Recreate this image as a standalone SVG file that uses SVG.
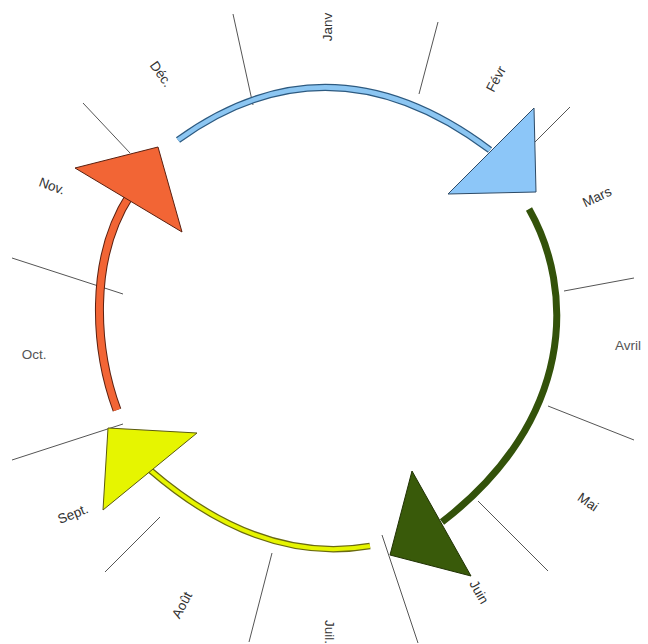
<svg xmlns="http://www.w3.org/2000/svg" width="648" height="644" viewBox="0 0 648 644">
<style>
.lbl{font-family:"Liberation Sans",Arial,sans-serif;font-size:13.5px;fill:#333;text-anchor:middle;dominant-baseline:central}
.lt{fill:#555}
.spoke{stroke:#555;stroke-width:1;fill:none}
.arc{fill:none;stroke-linecap:butt}
</style>
<rect width="648" height="644" fill="#fff"/>
<g id="spokes">
<line class="spoke" x1="233" y1="14" x2="253" y2="105"/>
<line class="spoke" x1="438" y1="22" x2="419" y2="94"/>
<line class="spoke" x1="570" y1="107" x2="535" y2="142"/>
<line class="spoke" x1="564" y1="291" x2="634" y2="278"/>
<line class="spoke" x1="548" y1="406" x2="634" y2="440"/>
<line class="spoke" x1="478" y1="501" x2="548" y2="571"/>
<line class="spoke" x1="382" y1="535" x2="418" y2="643"/>
<line class="spoke" x1="272" y1="553" x2="249" y2="642"/>
<line class="spoke" x1="160" y1="517" x2="105" y2="572"/>
<line class="spoke" x1="123" y1="424" x2="12" y2="460"/>
<line class="spoke" x1="12" y1="258" x2="123" y2="294"/>
<line class="spoke" x1="83" y1="103" x2="130" y2="153"/>
</g>
<g id="connectors">
<path class="arc" d="M178,140 Q330,30 490,150" stroke="#2d5a80" stroke-width="7"/>
<path class="arc" d="M178,140 Q330,30 490,150" stroke="#8cc6f2" stroke-width="4.5"/>
<path class="arc" d="M529,209 C575,290 575,420 442,522" stroke="#33520a" stroke-width="7"/>
<path class="arc" d="M370,546 Q260,565 150,470" stroke="#6a6a10" stroke-width="6.5"/>
<path class="arc" d="M370,546 Q260,565 150,470" stroke="#e6f500" stroke-width="4"/>
<path class="arc" d="M117,410 C95,350 88,260 130,195" stroke="#5a2010" stroke-width="9"/>
<path class="arc" d="M117,410 C95,350 88,260 130,195" stroke="#f26535" stroke-width="7"/>
</g>
<g id="arrow-blue"><polygon points="534,108 536,192 448,194" fill="#8cc6f8" stroke="#2d4a66" stroke-width="1"/></g>
<g id="arrow-green"><polygon points="412,471 390,555 471,576" fill="#395a0a" stroke="#203204" stroke-width="1"/></g>
<g id="arrow-yellow"><polygon points="108,428 197,433 103,510" fill="#e6f500" stroke="#5a5a10" stroke-width="1"/></g>
<g id="arrow-orange"><polygon points="75,168 158,147 182,232" fill="#f26535" stroke="#5a2010" stroke-width="1"/></g>
<g id="labels">
<text class="lbl" transform="translate(327,27) rotate(-90)">Janv</text>
<text class="lbl" transform="translate(496,79) rotate(-62)">Févr</text>
<text class="lbl" transform="translate(597,197) rotate(-25)">Mars</text>
<text class="lbl lt" transform="translate(628,345)">Avril</text>
<text class="lbl" transform="translate(588,502) rotate(35)">Mai</text>
<text class="lbl" transform="translate(479,592) rotate(60)">Juin</text>
<text class="lbl" transform="translate(329,632) rotate(90)">Juil.</text>
<text class="lbl" transform="translate(182,605) rotate(-62)">Août</text>
<text class="lbl" transform="translate(73,514) rotate(-22)">Sept.</text>
<text class="lbl lt" transform="translate(34,354)">Oct.</text>
<text class="lbl" transform="translate(52,186) rotate(20)">Nov.</text>
<text class="lbl" transform="translate(161,74) rotate(55)">Déc.</text>
</g>
</svg>
